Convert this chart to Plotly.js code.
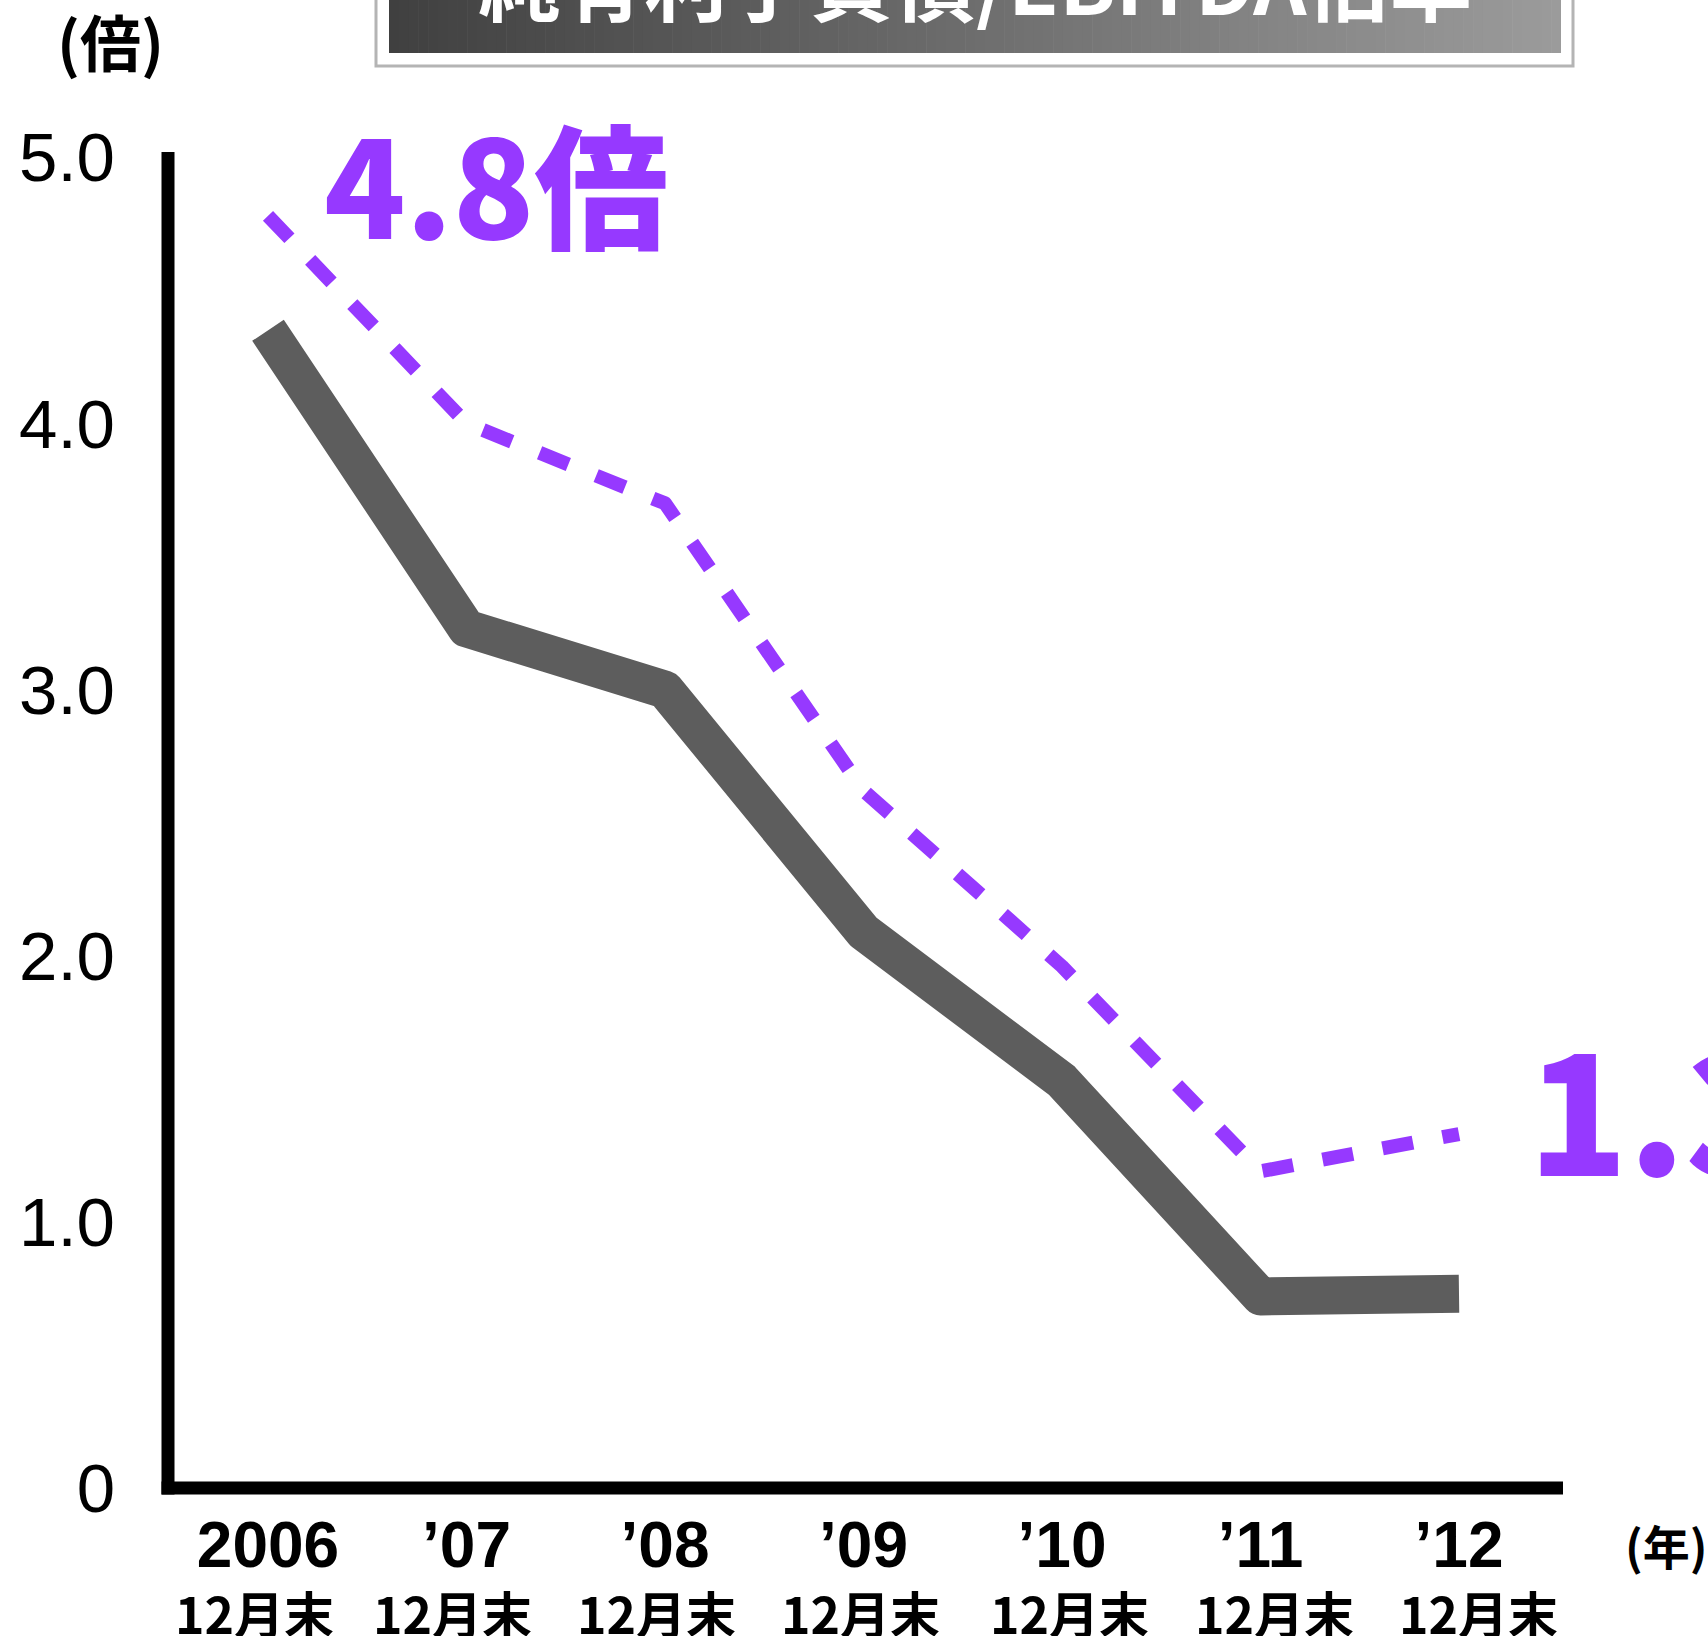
<!DOCTYPE html>
<html>
<head>
<meta charset="utf-8">
<script src="https://cdn.plot.ly/plotly-3.0.1.min.js"></script>
<style>
  html, body { margin: 0; padding: 0; background: #fff; }
  .js-line { stroke-linejoin: round !important; }
</style>
</head>
<body>
<div id="chart" style="width:1708px;height:1636px;"></div>
<script>
// ---- data ----
const categories = ["2006", "’07", "’08", "’09", "’10", "’11", "’12"];
const subLabels = ["12月末", "12月末", "12月末", "12月末", "12月末", "12月末", "12月末"];
const seriesGray = [4.35, 3.23, 3.0, 2.09, 1.53, 0.72, 0.73];
const seriesPurple = [4.78, 4.0, 3.7, 2.62, 1.96, 1.19, 1.33];
const yTickVals = [0, 1, 2, 3, 4, 5];
const yTickText = ["0", "1.0", "2.0", "3.0", "4.0", "5.0"];
const titleText = "純有利子負債/EBITDA倍率";
const yUnit = "(倍)";
const xUnit = "(年)";

// ---- layout geometry (pixels) ----
const W = 1708, H = 1636;
const L = 168, R = 1563, T = 152, B = 1488;
const pw = R - L, ph = B - T;
const px = v => (v - L) / pw;
const py = v => (B - v) / ph;
// small horizontal nudges of the second label row (style only)
const subShift = [-14, -14, -9, -3, 7, 14, 19];

const purple = "#9639FF";
const gray = "#5D5D5D";

const traces = [
  {
    x: categories, y: seriesGray, type: "scatter", mode: "lines",
    line: { color: gray, width: 38 }, hoverinfo: "skip", showlegend: false
  },
  {
    x: categories, y: seriesPurple, type: "scatter", mode: "lines",
    line: { color: purple, width: 14, dash: "31px,30px" }, hoverinfo: "skip", showlegend: false
  }
];

// title box with stepped gradient
const shapes = [];
shapes.push({ type: "rect", xref: "paper", yref: "paper",
  x0: px(376), x1: px(1573), y0: py(66), y1: py(-20),
  line: { color: "#B4B4B4", width: 3 }, fillcolor: "#FFFFFF", layer: "below" });
const steps = 120, bx0 = 389, bx1 = 1561;
const c0 = [64, 64, 64], c1 = [155, 155, 155];
for (let i = 0; i < steps; i++) {
  const t = i / (steps - 1);
  const c = c0.map((a, k) => Math.round(a + (c1[k] - a) * t));
  const xa = bx0 + (bx1 - bx0) * i / steps;
  const xb = bx0 + (bx1 - bx0) * (i + 1) / steps + 0.6;
  shapes.push({ type: "rect", xref: "paper", yref: "paper",
    x0: px(xa), x1: px(Math.min(xb, bx1)), y0: py(53), y1: py(-20),
    line: { width: 0 }, fillcolor: `rgb(${c[0]},${c[1]},${c[2]})`, layer: "below" });
}
// axis lines
shapes.push({ type: "line", xref: "paper", yref: "paper",
  x0: px(L), x1: px(L), y0: py(B + 6.5), y1: py(T),
  line: { color: "#000", width: 13 } });
shapes.push({ type: "line", xref: "paper", yref: "paper",
  x0: px(L - 6.5), x1: px(R), y0: 0, y1: 0,
  line: { color: "#000", width: 13 } });

const cjk = "'Noto Sans CJK JP', 'Liberation Sans', sans-serif";
const annotations = [];
annotations.push({ xref: "paper", yref: "paper", x: px(975), y: py(-21),
  xanchor: "center", yanchor: "middle", showarrow: false, text: titleText,
  font: { family: cjk, size: 83, color: "#FFFFFF", weight: 700 } });
annotations.push({ xref: "paper", yref: "paper", x: px(110), y: py(40),
  xanchor: "center", yanchor: "middle", showarrow: false, text: yUnit,
  font: { family: cjk, size: 61, color: "#000", weight: 700 } });
annotations.push({ xref: "paper", yref: "paper", x: px(1666), y: py(1544),
  xanchor: "center", yanchor: "middle", showarrow: false, text: xUnit,
  font: { family: cjk, size: 47, color: "#000", weight: 700 } });
annotations.push({ xref: "paper", yref: "paper", x: px(496), y: py(181),
  xanchor: "center", yanchor: "middle", showarrow: false,
  text: seriesPurple[0].toFixed(1) + "倍",
  font: { family: cjk, size: 134, color: purple, weight: 900 } });
annotations.push({ xref: "paper", yref: "paper", x: px(1526), y: py(1104),
  xanchor: "left", yanchor: "middle", showarrow: false,
  text: seriesPurple[seriesPurple.length - 1].toFixed(1) + "倍",
  font: { family: cjk, size: 164, color: purple, weight: 900 } });
categories.forEach((c, i) => {
  annotations.push({ xref: "x", yref: "paper", x: i, y: py(1612), xshift: subShift[i],
    xanchor: "center", yanchor: "middle", showarrow: false, text: subLabels[i],
    font: { family: cjk, size: 50, color: "#000", weight: 700 } });
});

const layout = {
  width: W, height: H, autosize: false,
  margin: { l: L, r: W - R, t: T, b: H - B, pad: 0 },
  paper_bgcolor: "#FFFFFF", plot_bgcolor: "#FFFFFF",
  showlegend: false,
  xaxis: {
    type: "category", range: [-(268 - L) / 198.5, 6 + (R - 1459) / 198.5],
    showgrid: false, zeroline: false, showline: false, ticks: "",
    ticklabelstandoff: 14,
    tickfont: { family: "'Liberation Sans', sans-serif", size: 64, color: "#000", weight: 700 },
    fixedrange: true
  },
  yaxis: {
    range: [0, 5.02], showgrid: false, zeroline: false, showline: false, ticks: "",
    tickvals: yTickVals, ticktext: yTickText,
    ticklabelstandoff: 52,
    tickfont: { family: "'Liberation Sans', sans-serif", size: 69, color: "#000" },
    fixedrange: true
  },
  shapes: shapes,
  annotations: annotations
};

Plotly.newPlot("chart", traces, layout, { staticPlot: true, displayModeBar: false });
</script>
</body>
</html>
